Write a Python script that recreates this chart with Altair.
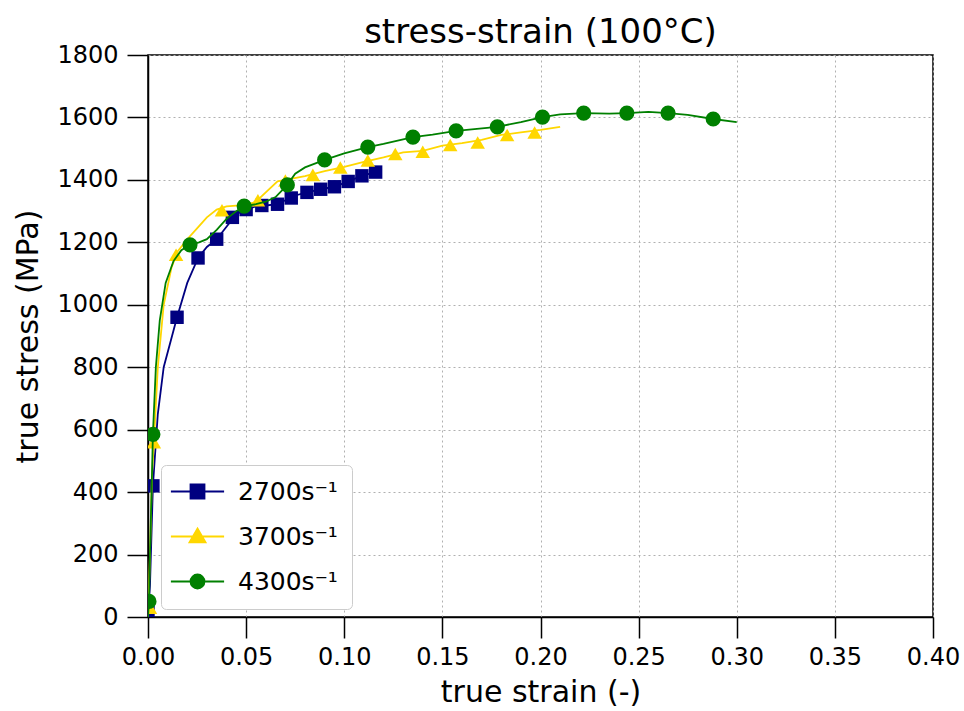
import altair as alt
import pandas as pd

# ---------------- data ----------------
labels = ["2700s⁻¹", "3700s⁻¹", "4300s⁻¹"]
colors = ["#000080", "#FFD700", "#008000"]

# 2700 s^-1  (line)
b_x = [0.0, 0.001, 0.0025, 0.005, 0.008, 0.0148, 0.020, 0.0255, 0.030, 0.035, 0.040,
       0.045, 0.050, 0.055, 0.060, 0.066, 0.070, 0.075, 0.081, 0.088, 0.095, 0.102,
       0.109, 0.114, 0.119]
b_y = [0, 100, 420, 650, 800, 960, 1070, 1150, 1185, 1210, 1250,
       1290, 1305, 1315, 1318, 1322, 1335, 1350, 1360, 1370, 1378, 1395,
       1413, 1422, 1430]
# 2700 s^-1  (markers)
bm_x = [0.0, 0.0025, 0.0148, 0.0255, 0.035, 0.043, 0.050, 0.058, 0.066, 0.073,
        0.081, 0.088, 0.095, 0.102, 0.109, 0.116]
bm_y = [15, 420, 960, 1150, 1210, 1280, 1305, 1318, 1322, 1342,
        1360, 1370, 1378, 1395, 1413, 1425]

# 3700 s^-1  (line)
y_x = [0.0, 0.001, 0.002, 0.003, 0.005, 0.008, 0.012, 0.015, 0.020, 0.025, 0.030,
       0.035, 0.040, 0.050, 0.055, 0.060, 0.066, 0.070, 0.080, 0.090, 0.100, 0.110,
       0.120, 0.130, 0.140, 0.150, 0.160, 0.170, 0.180, 0.190, 0.200, 0.210]
y_y = [0, 200, 450, 560, 800, 1000, 1120, 1170, 1210, 1245, 1280,
       1305, 1315, 1320, 1330, 1360, 1395, 1400, 1412, 1428, 1442, 1458,
       1472, 1488, 1493, 1510, 1518, 1528, 1544, 1552, 1560, 1570]
# 3700 s^-1  (markers)
ym_x = [0.001, 0.003, 0.0143, 0.0377, 0.056, 0.070, 0.084, 0.098, 0.112, 0.126,
        0.140, 0.154, 0.168, 0.183, 0.197]
ym_y = [30, 560, 1160, 1303, 1335, 1398, 1416, 1440, 1462, 1483,
        1490, 1512, 1520, 1544, 1552]

# 4300 s^-1  (line)
g_x = [0.0, 0.0005, 0.001, 0.002, 0.0025, 0.004, 0.006, 0.009, 0.013, 0.017, 0.0214,
       0.026, 0.030, 0.035, 0.040, 0.045, 0.049, 0.055, 0.060, 0.065, 0.071, 0.075,
       0.080, 0.085, 0.090, 0.100, 0.112, 0.120, 0.135, 0.145, 0.157, 0.165, 0.178,
       0.190, 0.201, 0.210, 0.222, 0.235, 0.244, 0.255, 0.265, 0.275, 0.288, 0.300]
g_y = [0, 50, 200, 450, 585, 800, 950, 1070, 1140, 1175, 1192,
       1200, 1210, 1240, 1275, 1300, 1316, 1322, 1330, 1345, 1384, 1420,
       1440, 1452, 1464, 1485, 1505, 1515, 1537, 1545, 1557, 1562, 1570,
       1585, 1601, 1610, 1614, 1612, 1614, 1618, 1614, 1608, 1595, 1585]
# 4300 s^-1  (markers)
gm_x = [0.0005, 0.0025, 0.0214, 0.049, 0.071, 0.090, 0.112, 0.135, 0.157, 0.178,
        0.201, 0.222, 0.244, 0.265, 0.288]
gm_y = [50, 585, 1192, 1316, 1384, 1464, 1505, 1537, 1557, 1570,
        1601, 1614, 1614, 1614, 1595]

x_ticks = [0.0, 0.05, 0.10, 0.15, 0.20, 0.25, 0.30, 0.35, 0.40]
y_ticks = [0, 200, 400, 600, 800, 1000, 1200, 1400, 1600, 1800]

# ---------------- chart ----------------
FONT = "DejaVu Sans"
xscale = alt.Scale(domain=[0, 0.4], nice=False, zero=False)
yscale = alt.Scale(domain=[0, 1800], nice=False)

xenc = alt.X("x:Q", scale=xscale,
             axis=alt.Axis(title="true strain (-)", values=x_ticks, format=".2f"))
yenc = alt.Y("y:Q", scale=yscale,
             axis=alt.Axis(title="true stress (MPa)", values=y_ticks, format="d"))

series = [
    (b_x, b_y, bm_x, bm_y, "square", 180),
    (y_x, y_y, ym_x, ym_y, "triangle-up", 210),
    (g_x, g_y, gm_x, gm_y, "circle", 230),
]

layers = []
for i, (lx, ly, mx, my, shp, sz) in enumerate(series):
    ldf = pd.DataFrame({"x": lx, "y": ly, "i": range(len(lx))})
    mdf = pd.DataFrame({"x": mx, "y": my})
    layers.append(
        alt.Chart(ldf).mark_line(color=colors[i], strokeWidth=1.8, clip=True)
        .encode(x=xenc, y=yenc, order="i:Q")
    )
    layers.append(
        alt.Chart(mdf).mark_point(shape=shp, size=sz, filled=True, opacity=1,
                                  color=colors[i], clip=True)
        .encode(x=xenc, y=yenc)
    )

# legend carrier (no visible marks; legend only)
paths = [
    "M-3.8,0L3.8,0M-1,-1L1,-1L1,1L-1,1Z",
    "M-3.8,0L3.8,0M0,-1.15L1.15,0.85L-1.15,0.85Z",
    "M-3.8,0L3.8,0M1,0A1,1,0,1,1,-1,0A1,1,0,1,1,1,0Z",
]
cdf = pd.DataFrame({"series": labels, "x": [-1.0] * 3, "y": [-1.0] * 3})
leg = alt.Legend(title=None, orient="none", legendX=13, legendY=410,
                 labelFont=FONT, labelFontSize=25, labelColor="black",
                 symbolSize=196, symbolStrokeWidth=1.8, rowPadding=19, padding=14,
                 strokeColor="#cccccc", fillColor="white", cornerRadius=5,
                 labelOffset=28, symbolOffset=10)
carrier = (
    alt.Chart(cdf).mark_point(filled=True, size=196, opacity=1)
    .transform_filter("datum.x > 0")
    .encode(
        x=xenc, y=yenc,
        fill=alt.Fill("series:N", scale=alt.Scale(domain=labels, range=colors), legend=leg),
        stroke=alt.Stroke("series:N", scale=alt.Scale(domain=labels, range=colors), legend=leg),
        shape=alt.Shape("series:N", scale=alt.Scale(domain=labels, range=paths), legend=leg),
    )
)

chart = (
    alt.layer(*layers, carrier)
    .properties(
        width=785, height=562,
        title=alt.Title("stress-strain (100°C)", font=FONT, fontSize=34,
                        fontWeight="normal", color="black", offset=0, dy=7),
        autosize=alt.AutoSizeParams(type="none"),
        padding={"left": 148, "top": 55, "right": 31, "bottom": 94},
    )
    .configure_view(stroke="black", strokeWidth=1.5)
    .configure_axis(
        labelFont=FONT, labelFontSize=24, labelColor="black",
        titleFont=FONT, titleFontSize=30, titleFontWeight="normal", titleColor="black",
        domainColor="black", domainWidth=1.5,
        tickColor="black", tickWidth=1.5, tickSize=21,
        gridColor="#b0b0b0", gridDash=[2, 3], gridWidth=1,
    )
    .configure_axisX(titlePadding=8, labelPadding=7, labelFlush=False)
    .configure_axisY(titlePadding=13, labelPadding=9)
)

chart.save("out.html", embed_options={"renderer": "svg", "actions": False})
